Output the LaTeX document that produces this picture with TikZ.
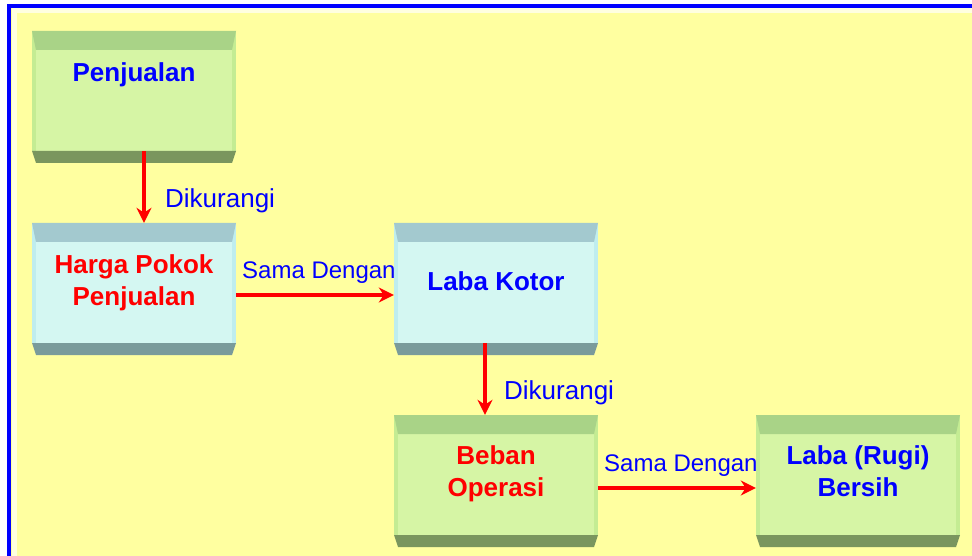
\documentclass[tikz,border=0pt]{standalone}
\usepackage{fontspec}
\setmainfont{Liberation Sans}
\usetikzlibrary{arrows.meta}
\definecolor{bg}{HTML}{FFFFA0}
\definecolor{bgedge}{HTML}{FFFFE0}
\definecolor{gmain}{HTML}{D6F5A5}
\definecolor{gside}{HTML}{C4EC93}
\definecolor{gtop}{HTML}{A9D387}
\definecolor{gbot}{HTML}{7A965E}
\definecolor{cmain}{HTML}{D4F7F2}
\definecolor{cside}{HTML}{BFEDEE}
\definecolor{ctop}{HTML}{A3C9CF}
\definecolor{cbot}{HTML}{7A9B9B}
\definecolor{fblue}{HTML}{0000FF}
\definecolor{fred}{HTML}{FF0000}
\tikzset{
  boxface/.style={rectangle, minimum width=204pt, minimum height=120pt, inner sep=0pt, draw=none},
  boxtext/.style={font=\bfseries\fontsize{26}{32}\selectfont, anchor=base, inner sep=0pt},
  lbl/.style={text=fblue, anchor=base west, inner sep=0pt},
  flowarrow/.style={draw=fred, line width=4pt, -{Stealth[length=15pt,width=15pt]}},
}
\newcommand\flowbox[4]{%
  \node[boxface, fill=#4side] (#1) at (#2+102,#3+60) {};
  \fill[#4main] (#2+4,#3+19) rectangle (#2+200,#3+120);
  \fill[#4top] (#2,#3) -- (#2+204,#3) -- (#2+200,#3+19) -- (#2+4,#3+19) -- cycle;
  \fill[#4bot] (#2,#3+120) -- (#2+204,#3+120) -- (#2+200,#3+132) -- (#2+4,#3+132) -- cycle;
}
\begin{document}
\begin{tikzpicture}[x=1pt,y=-1pt]
\useasboundingbox (0,0) rectangle (972,556);
\clip (0,0) rectangle (972,556);
\fill[white] (0,0) rectangle (972,556);
\fill[bg] (9,6) rectangle (990,580);
\draw[bgedge, line width=5pt] (14,11) rectangle (985,575);
\draw[fblue, line width=4pt] (9,6) rectangle (990,580);

\flowbox{b1}{32}{31}{g}
\flowbox{b2}{32}{223}{c}
\flowbox{b3}{394}{223}{c}
\flowbox{b4}{394}{415}{g}
\flowbox{b5}{756}{415}{g}

\node[boxtext, text=fblue] (t1) at (134,82) {Penjualan};
\node[boxtext, text=fred] (t2a) at (134,273) {Harga Pokok};
\node[boxtext, text=fred] (t2b) at (134,305) {Penjualan};
\node[boxtext, text=fblue] (t3) at (496,290) {Laba Kotor};
\node[boxtext, text=fred] (t4a) at (496,464) {Beban};
\node[boxtext, text=fred] (t4b) at (496,496) {Operasi};
\node[boxtext, text=fblue] (t5a) at (858,464) {Laba (Rugi)};
\node[boxtext, text=fblue] (t5b) at (858,496) {Bersih};

\draw[flowarrow] ([xshift=10pt]b1.south) -- ([xshift=10pt]b2.north);
\draw[flowarrow] ([yshift=-12pt]b2.east) -- ([yshift=-12pt]b3.west);
\draw[flowarrow] ([xshift=-11pt]b3.south) -- ([xshift=-11pt]b4.north);
\draw[flowarrow] ([yshift=-13pt]b4.east) -- ([yshift=-13pt]b5.west);

\node[lbl, font=\fontsize{26}{30}\selectfont] (l1) at (165,208) {Dikurangi};
\node[lbl, font=\fontsize{24}{28}\selectfont] (l2) at (242,278) {Sama Dengan};
\node[lbl, font=\fontsize{26}{30}\selectfont] (l3) at (504,399) {Dikurangi};
\node[lbl, font=\fontsize{24}{28}\selectfont] (l4) at (604,471) {Sama Dengan};
\end{tikzpicture}
\end{document}
